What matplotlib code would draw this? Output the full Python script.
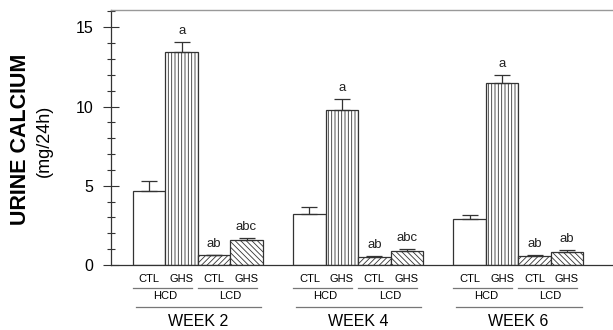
import matplotlib
matplotlib.use("Agg")
import matplotlib.pyplot as plt
import numpy as np
from matplotlib.ticker import MultipleLocator

plt.rcParams['font.family'] = ['Liberation Sans', 'DejaVu Sans']
plt.rcParams['hatch.linewidth'] = 0.6

weeks = ["WEEK 2", "WEEK 4", "WEEK 6"]
groups = ["CTL", "GHS", "CTL", "GHS"]
diets = ["HCD", "LCD"]
# order per week: HCD-CTL, HCD-GHS, LCD-CTL, LCD-GHS
means = [
    [4.68, 13.45, 0.61, 1.58],
    [3.23, 9.80, 0.53, 0.90],
    [2.91, 11.50, 0.57, 0.84],
]
errs = [
    [0.62, 0.65, 0.04, 0.11],
    [0.42, 0.69, 0.04, 0.09],
    [0.25, 0.50, 0.08, 0.11],
]
letters = [
    ["", "a", "ab", "abc"],
    ["", "a", "ab", "abc"],
    ["", "a", "ab", "ab"],
]

hatches = [None, "|||||", "//////", "\\\\\\\\\\\\"]

fig = plt.figure(figsize=(6.13, 3.30), dpi=100)
ax = fig.add_axes([111/613, 1-265/330, 1-111/613, 255/330])

gap = 4.94
edge = "#333333"
for g in range(3):
    for i in range(4):
        x = g*gap + i
        ax.bar(x, means[g][i], width=1.0, facecolor="white", edgecolor=edge,
               linewidth=0.9, hatch=hatches[i], zorder=2)
        ax.errorbar(x, means[g][i], yerr=[[0], [errs[g][i]]], fmt="none",
                    ecolor=edge, elinewidth=0.9, capsize=6, capthick=0.9, zorder=3)
        if letters[g][i]:
            ax.annotate(letters[g][i], (x, means[g][i] + errs[g][i]),
                        xytext=(0, 3.5), textcoords="offset points",
                        ha="center", va="bottom", fontsize=9.5, color="#222222")

ax.set_xlim(-1.18, 3.5 + 2*gap + 0.92)
ax.set_ylim(0, 16.09)
ax.yaxis.set_major_locator(MultipleLocator(5))
ax.yaxis.set_minor_locator(MultipleLocator(1))
ax.tick_params(axis="y", which="major", direction="inout", length=11, width=0.8,
               labelsize=11.5, pad=7, color="#333333")
ax.tick_params(axis="y", which="minor", direction="inout", length=6, width=0.8,
               color="#333333")
ax.set_xticks([])
ax.spines["right"].set_visible(False)
for s in ["left", "bottom"]:
    ax.spines[s].set_color("#333333")
    ax.spines[s].set_linewidth(0.9)
ax.spines["top"].set_color("#999999")
ax.spines["top"].set_linewidth(1.0)

trans = ax.get_xaxis_transform()
def yax(px):
    return (265 - px) / 255.0

for g in range(3):
    base = g*gap
    for i in range(4):
        ax.text(base + i, yax(279), groups[i], transform=trans, ha="center",
                va="center", fontsize=8, clip_on=False)
    for d in range(2):
        x0 = base + 2*d - 0.5
        ax.plot([x0, x0 + 1.82], [yax(288), yax(288)], transform=trans,
                color="#777777", lw=0.9, clip_on=False)
        ax.text(base + 2*d + 0.5, yax(296), diets[d], transform=trans,
                ha="center", va="center", fontsize=8, clip_on=False)
    ax.plot([base - 0.42, base + 3.45], [yax(306.5), yax(306.5)], transform=trans,
            color="#777777", lw=0.9, clip_on=False)
    ax.text(base + 1.5, yax(321), weeks[g], transform=trans, ha="center",
            va="center", fontsize=11.5, clip_on=False)

fig.text(21/613, 1-139/330, "URINE CALCIUM", rotation=90, ha="center",
         va="center", fontsize=15.5, fontweight="bold")
fig.text(44/613, 1-141/330, "(mg/24h)", rotation=90, ha="center",
         va="center", fontsize=13)

fig.savefig("out.png", dpi=100)
